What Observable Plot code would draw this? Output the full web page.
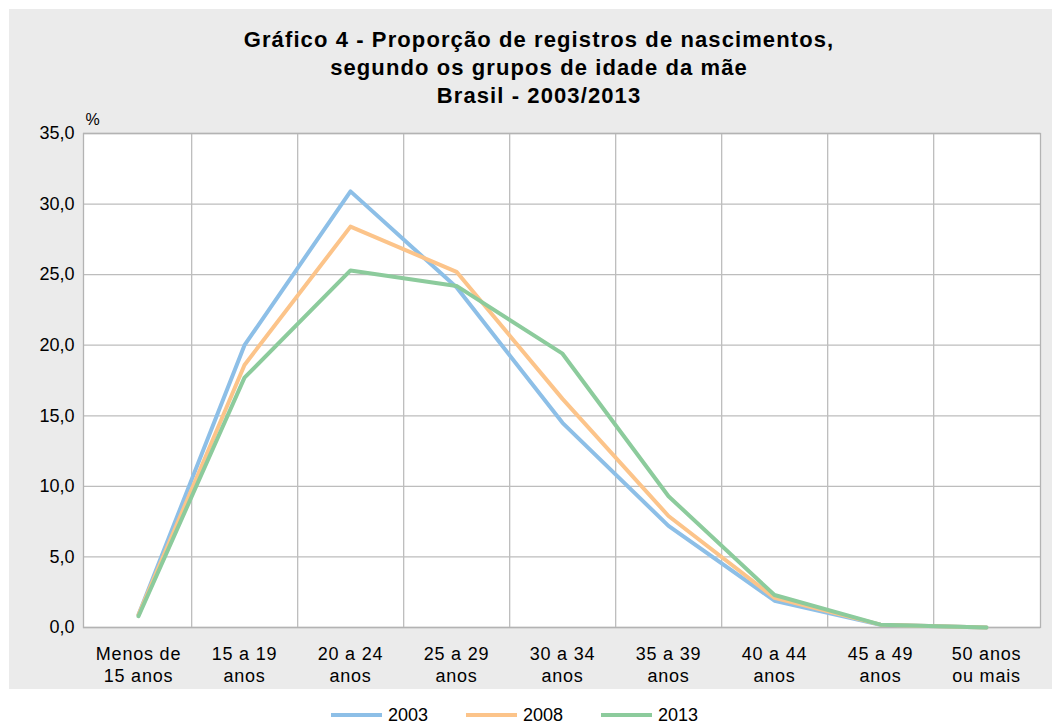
<!DOCTYPE html>
<html><head><meta charset="utf-8">
<script src="https://cdn.jsdelivr.net/npm/d3@7"></script>
<script src="https://cdn.jsdelivr.net/npm/@observablehq/plot@0.6"></script>
<style>
body{margin:0;background:#fff;font-family:"Liberation Sans",Arial,sans-serif;}
#wrap{position:relative;width:1055px;height:724px;overflow:hidden}
#panel{position:absolute;left:9px;top:9px;width:1043px;height:680px;background:#ebebeb}
#title{position:absolute;left:0;top:26px;width:1078px;text-align:center;font-weight:bold;font-size:22px;letter-spacing:1.1px;line-height:28px;color:#000}
#chart{position:absolute;left:0;top:110px}
#chart svg [aria-label="x-axis tick label"] text{letter-spacing:0.8px}
#legend{position:absolute;top:707px;left:0;width:1029px;display:flex;justify-content:center;align-items:center;font-size:18px;line-height:16px;color:#000}
.item{display:flex;align-items:center;margin:0 19px}
.sw{width:51px;height:4px;margin-right:6px}
</style></head>
<body>
<div id="wrap">
  <div id="panel"></div>
  <div id="title">Gráfico 4 - Proporção de registros de nascimentos,<br>segundo os grupos de idade da mãe<br>Brasil - 2003/2013</div>
  <div id="chart"></div>
  <div id="legend"></div>
</div>
<script>
const ageGroups = ["Menos de 15 anos","15 a 19 anos","20 a 24 anos","25 a 29 anos","30 a 34 anos","35 a 39 anos","40 a 44 anos","45 a 49 anos","50 anos ou mais"];
const ageLabels = ["Menos de\n15 anos","15 a 19\nanos","20 a 24\nanos","25 a 29\nanos","30 a 34\nanos","35 a 39\nanos","40 a 44\nanos","45 a 49\nanos","50 anos\nou mais"];
const years = ["2003","2008","2013"];
const v2003 = [0.9, 20.0, 30.9, 24.1, 14.5, 7.2, 1.9, 0.2, 0.0];
const v2008 = [0.9, 18.6, 28.4, 25.2, 16.2, 7.9, 2.1, 0.2, 0.0];
const v2013 = [0.8, 17.7, 25.3, 24.2, 19.4, 9.3, 2.3, 0.2, 0.0];
const yTicks = [0, 5, 10, 15, 20, 25, 30, 35];
const colors = ["#8dbfe7", "#fcc48a", "#8ccb9c"];

const series = [v2003, v2008, v2013];
const data = years.flatMap((yr, i) => series[i].map((v, j) => ({year: yr, group: ageGroups[j], value: v})));

const W = 1055, H = 580, ml = 83, mr = 15, mt = 23, mb = 63;
const step = (W - ml - mr) / ageGroups.length;

const chart = Plot.plot({
  width: W, height: H,
  marginLeft: ml, marginRight: mr, marginTop: mt, marginBottom: mb,
  style: {background: "transparent", fontFamily: "'Liberation Sans', Arial, sans-serif", fontSize: "18px", color: "#000", overflow: "visible"},
  x: {type: "point", domain: ageGroups, padding: 0.5, label: null},
  y: {domain: [0, 35], label: null},
  color: {domain: years, range: colors},
  marks: [
    Plot.frame({fill: "white"}),
    Plot.ruleY(yTicks, {stroke: "#bdbdbd", strokeWidth: 1.3}),
    Plot.ruleX(ageGroups.slice(0, -1), {dx: step / 2, stroke: "#bdbdbd", strokeWidth: 1.3}),
    Plot.frame({stroke: "#b3b3b3", strokeWidth: 1.3}),
    Plot.axisY({ticks: yTicks, tickSize: 0, tickPadding: 9, tickFormat: d => d.toFixed(1).replace(".", ","), label: null, fontSize: 18}),
    Plot.axisX({tickSize: 0, tickPadding: 17, tickFormat: d => ageLabels[ageGroups.indexOf(d)], label: null, lineHeight: 1.22, fontSize: 18}),
    Plot.text(["%"], {frameAnchor: "top-left", text: d => d, dx: 2, dy: -14, lineAnchor: "middle", textAnchor: "start", fontSize: 16}),
    Plot.line(data, {x: "group", y: "value", stroke: "year", z: "year", strokeWidth: 4})
  ]
});
document.getElementById("chart").appendChild(chart);

const legend = document.getElementById("legend");
years.forEach((yr, i) => {
  const it = document.createElement("div");
  it.className = "item";
  const sw = document.createElement("div");
  sw.className = "sw";
  sw.style.background = colors[i];
  const tx = document.createElement("span");
  tx.textContent = yr;
  it.appendChild(sw); it.appendChild(tx);
  legend.appendChild(it);
});
</script>
</body></html>
